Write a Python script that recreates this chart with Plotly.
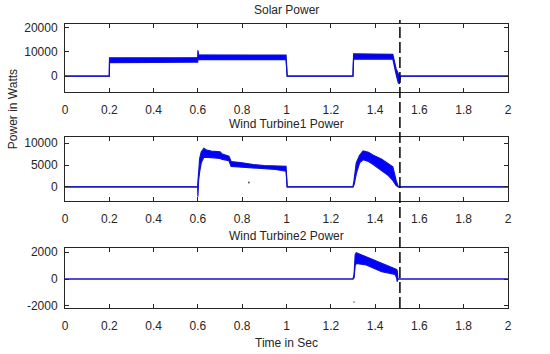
import plotly.graph_objects as go

# ---------------- data ----------------
solar_t = [0.0, 0.2, 0.201, 0.3, 0.4, 0.5, 0.599, 0.6, 0.603, 0.7, 0.8, 0.9, 0.998, 1.003,
           1.3, 1.303, 1.4, 1.48, 1.495, 1.505, 1.51, 1.515, 2.0]
solar_hi = [0, 0, 7600, 7500, 7600, 7600, 7700, 10700, 8800, 8700, 8800, 8800, 8700, 0,
            0, 9200, 9100, 9000, 3000, 1000, 0, 0, 0]
solar_lo = [0, 0, 5600, 5600, 5700, 5700, 5800, 6900, 6900, 6800, 6900, 6900, 6800, 0,
            0, 7000, 7000, 7000, 800, -2800, -3000, 0, 0]

wt1_t = [0.0, 0.599, 0.600, 0.603, 0.608, 0.615, 0.627, 0.64, 0.66, 0.70, 0.71, 0.74, 0.75,
         0.80, 0.85, 0.90, 0.95, 0.998, 1.003, 1.30, 1.305, 1.315, 1.33, 1.346, 1.37, 1.39,
         1.43, 1.46, 1.48, 1.495, 1.505, 2.0]
wt1_hi = [0, 0, 1000, 3900, 6500, 8000, 8800, 8400, 8200, 8000, 7500, 7000, 5800,
          5500, 5100, 4900, 4800, 4700, 0, 0, 1500, 5500, 7200, 8200, 7900, 7300,
          6300, 5400, 4600, 1500, 0, 0]
wt1_lo = [0, 0, -2200, 1500, 3500, 5500, 6800, 6800, 6700, 6500, 6300, 6000, 4700,
          4500, 4300, 4200, 4000, 3600, 0, 0, 500, 3000, 5500, 6200, 5800, 5200,
          3800, 2600, 1500, 300, 0, 0]

wt2_t = [0.0, 1.30, 1.305, 1.31, 1.315, 1.36, 1.43, 1.49, 1.497, 1.50, 1.503, 2.0]
wt2_hi = [0, 0, 300, 1800, 1950, 1650, 1160, 790, 700, 600, 0, 0]
wt2_lo = [0, 0, 100, 1000, 1150, 1040, 540, 350, 100, -200, 0, 0]

dot_wt1_t, dot_wt1_v = [0.83], [1000]
dot_wt2_t, dot_wt2_v = [1.305], [-1700]

x_ticks = [0, 0.2, 0.4, 0.6, 0.8, 1.0, 1.2, 1.4, 1.6, 1.8, 2.0]
x_labels = ["0", "0.2", "0.4", "0.6", "0.8", "1", "1.2", "1.4", "1.6", "1.8", "2"]
titles = ["Solar Power", "Wind Turbine1 Power", "Wind Turbine2 Power"]
y_ticks = [[0, 10000, 20000], [0, 5000, 10000], [-2000, 0, 2000]]
y_labels = [["0", "10000", "20000"], ["0", "5000", "10000"], ["-2000", "0", "2000"]]
y_ranges = [[-6500, 21500], [-3200, 11400], [-2150, 2300]]
event_t = 1.512

# ---------------- figure ----------------
LINE = "#1212c8"
FILL = "#0000ff"
TXT = "#262626"
FONT = "Liberation Sans, Arial, sans-serif"

fig = go.Figure()
panels = [(solar_t, solar_hi, solar_lo), (wt1_t, wt1_hi, wt1_lo), (wt2_t, wt2_hi, wt2_lo)]
for i, (t, hi, lo) in enumerate(panels):
    xa = "x" if i == 0 else f"x{i+1}"
    ya = "y" if i == 0 else f"y{i+1}"
    fig.add_trace(go.Scatter(x=t, y=hi, mode="lines", line=dict(color=LINE, width=1.2),
                             xaxis=xa, yaxis=ya, showlegend=False, hoverinfo="skip"))
    fig.add_trace(go.Scatter(x=t, y=lo, mode="lines", line=dict(color=LINE, width=1.2),
                             fill="tonexty", fillcolor=FILL,
                             xaxis=xa, yaxis=ya, showlegend=False, hoverinfo="skip"))

fig.add_trace(go.Scatter(x=dot_wt1_t, y=dot_wt1_v, mode="markers",
                         marker=dict(color="#555577", size=2), xaxis="x2", yaxis="y2",
                         showlegend=False, hoverinfo="skip"))
fig.add_trace(go.Scatter(x=dot_wt2_t, y=dot_wt2_v, mode="markers",
                         marker=dict(color="#9999aa", size=2), xaxis="x3", yaxis="y3",
                         showlegend=False, hoverinfo="skip"))

domains = [[0.7606, 1.0], [0.3768, 0.6021], [0.0, 0.2113]]
layout = dict(
    width=550, height=354,
    margin=dict(l=65, r=42, t=24, b=46, autoexpand=False),
    paper_bgcolor="white", plot_bgcolor="white",
    font=dict(family=FONT, size=12, color=TXT),
    showlegend=False,
)
for i in range(3):
    xk = "xaxis" if i == 0 else f"xaxis{i+1}"
    yk = "yaxis" if i == 0 else f"yaxis{i+1}"
    ya = "y" if i == 0 else f"y{i+1}"
    xa = "x" if i == 0 else f"x{i+1}"
    layout[xk] = dict(domain=[0, 1], anchor=ya, range=[0, 2], tickvals=x_ticks,
                      ticktext=x_labels, ticks="inside", ticklen=4, tickcolor=TXT,
                      showline=True, linecolor=TXT, linewidth=1, mirror="allticks",
                      showgrid=False, zeroline=False, ticklabelstandoff=7, automargin=False,
                      tickfont=dict(size=12, color=TXT))
    layout[yk] = dict(domain=domains[i], anchor=xa, range=y_ranges[i], tickvals=y_ticks[i],
                      ticktext=y_labels[i],
                      ticks="inside", ticklen=4, tickcolor=TXT,
                      showline=True, linecolor=TXT, linewidth=1, mirror="allticks",
                      showgrid=False, zeroline=False, ticklabelstandoff=4, automargin=False,
                      tickfont=dict(size=12, color=TXT))
fig.update_layout(**layout)

title_y = [1.0493, 0.6479, 0.2535]
for txt, yy in zip(titles, title_y):
    fig.add_annotation(text=txt, xref="paper", yref="paper", x=0.5, y=yy,
                       xanchor="center", yanchor="middle", showarrow=False,
                       font=dict(size=12, color=TXT))
fig.add_annotation(text="Time in Sec", xref="paper", yref="paper", x=0.5, y=-0.1232,
                   xanchor="center", yanchor="middle", showarrow=False,
                   font=dict(size=12, color=TXT))
fig.add_annotation(text="Power in Watts", xref="paper", yref="paper", x=-0.117, y=0.7007,
                   xanchor="center", yanchor="middle", showarrow=False, textangle=-90,
                   font=dict(size=12, color=TXT))

fig.add_shape(type="line", xref="x", yref="paper", x0=event_t, x1=event_t, y0=0, y1=1.014,
              line=dict(color="black", width=1.5, dash="11px,4px"))

fig.write_html("out.html", config={"displayModeBar": False},
               post_script="document.body.style.margin='0';document.body.style.padding='0';")
